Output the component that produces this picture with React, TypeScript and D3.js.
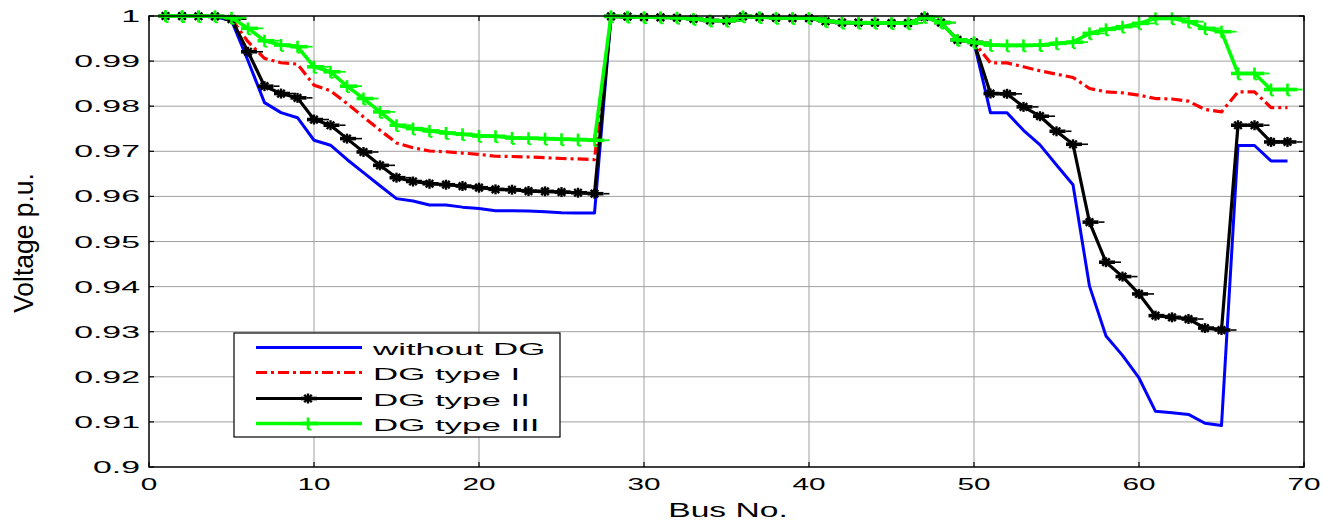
import React from "react";
import * as d3 from "d3";

// Bus voltage profile of the 69-bus radial feeder for four DG cases.

const busNo: number[] = d3.range(1, 70);

const xTicks = [0, 10, 20, 30, 40, 50, 60, 70];
const yTicks = [0.9, 0.91, 0.92, 0.93, 0.94, 0.95, 0.96, 0.97, 0.98, 0.99, 1];
const yTickLabels = ["0.9", "0.91", "0.92", "0.93", "0.94", "0.95", "0.96", "0.97", "0.98", "0.99", "1"];

// Buses 28-50 (laterals close to the substation) are almost identical for every case
const midFeeder = [
  0.99993, 0.99985, 0.99973, 0.99971, 0.99961, 0.99935, 0.99901, 0.99895, 0.99992,
  0.99975, 0.99959, 0.99954, 0.99954, 0.99884, 0.99855, 0.99851, 0.9985, 0.99841,
  0.9984, 0.99979, 0.99854, 0.9947, 0.99415,
];

// Buses 1-27
const withoutDgMain = [
  1.0, 0.99997, 0.99993, 0.99984, 0.99902, 0.99009, 0.98079, 0.97858, 0.97745, 0.97245,
  0.97135, 0.96819, 0.96526, 0.96236, 0.95951, 0.95898, 0.95809, 0.95808, 0.95762,
  0.95732, 0.95684, 0.95683, 0.95676, 0.95659, 0.9564, 0.95632, 0.9563,
];
const dgType1Main = [
  1.0, 0.99998, 0.99995, 0.9999, 0.99935, 0.9943, 0.9906, 0.98963, 0.98933, 0.98467,
  0.9834, 0.9806, 0.97763, 0.97467, 0.97185, 0.9708, 0.97007, 0.9699, 0.9696, 0.96933,
  0.9689, 0.96885, 0.96874, 0.9686, 0.9684, 0.9683, 0.96815,
];
const dgType2Main = [
  1.0, 0.99998, 0.99995, 0.9999, 0.9993, 0.99207, 0.98444, 0.98281, 0.98185, 0.97704,
  0.97578, 0.97281, 0.96985, 0.96689, 0.96415, 0.9633, 0.9628, 0.96259, 0.9623, 0.96193,
  0.96156, 0.96148, 0.96119, 0.96111, 0.96096, 0.96081, 0.9606,
];
const dgType3Main = [
  1.0, 0.99998, 0.99996, 0.99993, 0.9996, 0.99726, 0.99452, 0.99356, 0.99319, 0.98874,
  0.98763, 0.98444, 0.9817, 0.97874, 0.97578, 0.97504, 0.97452, 0.97407, 0.97378,
  0.97341, 0.97333, 0.97296, 0.9729, 0.9728, 0.97267, 0.9726, 0.97244,
];

// Buses 51-69
const withoutDgTail = [
  0.97854, 0.97853, 0.97466, 0.97142, 0.96695, 0.96258, 0.9401, 0.92904, 0.92475, 0.91974,
  0.91234, 0.91205, 0.91166, 0.9097, 0.90919, 0.97129, 0.97129, 0.96786, 0.96786,
];
const dgType1Tail = [
  0.9896, 0.9896, 0.98874, 0.98785, 0.98711, 0.98637, 0.98393, 0.98319, 0.98296, 0.98244,
  0.9817, 0.9816, 0.98111, 0.97926, 0.97874, 0.98319, 0.98319, 0.9797, 0.9797,
];
const dgType2Tail = [
  0.98281, 0.98274, 0.97985, 0.97778, 0.97444, 0.97156, 0.9543, 0.94541, 0.94222, 0.93837,
  0.93356, 0.93319, 0.93281, 0.93081, 0.93037, 0.97578, 0.97578, 0.97207, 0.97207,
];
const dgType3Tail = [
  0.99356, 0.99348, 0.99348, 0.99356, 0.99393, 0.9942, 0.99615, 0.99704, 0.99763, 0.99837,
  0.99948, 0.9995, 0.99874, 0.99726, 0.99652, 0.98726, 0.98726, 0.9837, 0.9837,
];

const seriesNames = ["without DG", "DG type I", "DG type II", "DG type III"];

type Series = {
  name: string;
  values: number[];
  color: string;
  width: number;
  dash?: string;
  marker?: "star" | "plus";
};

const series: Series[] = [
  { name: seriesNames[0], values: [...withoutDgMain, ...midFeeder, ...withoutDgTail], color: "#0000ff", width: 3 },
  { name: seriesNames[1], values: [...dgType1Main, ...midFeeder, ...dgType1Tail], color: "#ff0000", width: 3.2, dash: "11,4,3,4" },
  { name: seriesNames[2], values: [...dgType2Main, ...midFeeder, ...dgType2Tail], color: "#000000", width: 3.2, marker: "star" },
  { name: seriesNames[3], values: [...dgType3Main, ...midFeeder, ...dgType3Tail], color: "#00ff00", width: 3.6, marker: "plus" },
];

const W = 1338;
const H = 521;
const left = 149;
const right = 1304;
const top = 16;
const bottom = 467;

const FONT = "'Liberation Sans', Arial, Helvetica, sans-serif";

function StretchText(props: {
  x: number;
  y: number;
  sx: number;
  size: number;
  anchor: "start" | "middle" | "end";
  text: string;
  rotate?: number;
}) {
  const { x, y, sx, size, anchor, text, rotate = 0 } = props;
  return (
    <text
      transform={`translate(${x},${y}) rotate(${rotate}) scale(${sx},1)`}
      fontFamily={FONT}
      fontSize={size}
      textAnchor={anchor}
      fill="#000"
    >
      {text}
    </text>
  );
}

function Marker({ kind, x, y, color }: { kind: "star" | "plus"; x: number; y: number; color: string }) {
  if (kind === "plus") {
    return (
      <g stroke={color} fill="none" strokeLinecap="butt">
        <line x1={x} y1={y - 6} x2={x} y2={y + 6} strokeWidth={2.6} />
        <line x1={x - 7} y1={y} x2={x + 10} y2={y} strokeWidth={3.6} />
        <line x1={x + 10} y1={y} x2={x + 15} y2={y} strokeWidth={1.8} />
        <line x1={x} y1={y + 6} x2={x + 3} y2={y + 6} strokeWidth={1.8} />
      </g>
    );
  }
  const r = 5;
  const d = r * 0.75;
  return (
    <g stroke={color} fill="none">
      <line x1={x - 7} y1={y} x2={x + 9} y2={y} strokeWidth={3.6} />
      <line x1={x + 9} y1={y} x2={x + 15} y2={y} strokeWidth={1.6} />
      <line x1={x} y1={y - r} x2={x} y2={y + r} strokeWidth={2.4} />
      <line x1={x - d} y1={y - d} x2={x + d} y2={y + d} strokeWidth={2.4} />
      <line x1={x - d} y1={y + d} x2={x + d} y2={y - d} strokeWidth={2.4} />
    </g>
  );
}

export default function App() {
  const x = d3.scaleLinear().domain([0, 70]).range([left, right]);
  const y = d3.scaleLinear().domain([0.9, 1]).range([bottom, top]);

  const lineGen = d3
    .line<number>()
    .x((_, i) => x(busNo[i]))
    .y((v) => y(v));

  const legendX0 = 234;
  const legendY0 = 333;
  const legendRows = [347.5, 372.5, 398.5, 423.5];

  return (
    <svg
      width={W}
      height={H}
      style={{ position: "absolute", left: 0, top: 0, background: "#fff" }}
    >
      <rect x={0} y={0} width={W} height={H} fill="#fff" />

      {/* grid */}
      <g stroke="#a0a0a0" strokeWidth={1}>
        {xTicks.slice(1, -1).map((t) => (
          <line key={`gx${t}`} x1={x(t)} x2={x(t)} y1={top} y2={bottom} />
        ))}
        {yTicks.slice(1, -1).map((t) => (
          <line key={`gy${t}`} x1={left} x2={right} y1={y(t)} y2={y(t)} />
        ))}
      </g>

      {/* inward tick marks on all four sides */}
      <g stroke="#000" strokeWidth={1.2}>
        {xTicks.map((t) => (
          <g key={`tx${t}`}>
            <line x1={x(t)} x2={x(t)} y1={bottom} y2={bottom - 5} />
            <line x1={x(t)} x2={x(t)} y1={top} y2={top + 5} />
          </g>
        ))}
        {yTicks.map((t) => (
          <g key={`ty${t}`}>
            <line x1={left} x2={left + 5} y1={y(t)} y2={y(t)} />
            <line x1={right} x2={right - 5} y1={y(t)} y2={y(t)} />
          </g>
        ))}
      </g>

      {/* curves */}
      {series.map((s) => (
        <g key={s.name}>
          <path
            d={lineGen(s.values) || ""}
            fill="none"
            stroke={s.color}
            strokeWidth={s.width}
            strokeDasharray={s.dash}
            strokeLinejoin="round"
          />
          {s.marker &&
            s.values.map((v, i) => (
              <Marker key={i} kind={s.marker!} x={x(busNo[i])} y={y(v)} color={s.color} />
            ))}
        </g>
      ))}

      {/* frame */}
      <rect
        x={left}
        y={top}
        width={right - left}
        height={bottom - top}
        fill="none"
        stroke="#000"
        strokeWidth={1.5}
      />

      {/* tick labels */}
      {yTicks.map((t, i) => (
        <StretchText
          key={`yl${t}`}
          x={140}
          y={y(t) + 6}
          sx={2.05}
          size={16.5}
          anchor="end"
          text={yTickLabels[i]}
        />
      ))}
      {xTicks.map((t) => (
        <StretchText key={`xl${t}`} x={x(t)} y={490} sx={1.75} size={17} anchor="middle" text={String(t)} />
      ))}

      {/* axis titles */}
      <StretchText x={728} y={517} sx={1.6} size={21} anchor="middle" text="Bus No." />
      <StretchText x={33} y={243} sx={0.98} size={27} anchor="middle" rotate={-90} text="Voltage p.u." />

      {/* legend */}
      <g>
        <rect x={legendX0} y={legendY0} width={326} height={104} fill="#fff" stroke="#000" strokeWidth={1.2} />
        {series.map((s, i) => (
          <g key={`lg${s.name}`}>
            <line
              x1={256}
              x2={362}
              y1={legendRows[i]}
              y2={legendRows[i]}
              stroke={s.color}
              strokeWidth={s.width}
              strokeDasharray={s.dash}
            />
            {s.marker && <Marker kind={s.marker} x={308} y={legendRows[i]} color={s.color} />}
            <StretchText x={373} y={legendRows[i] + 7} sx={2.05} size={17} anchor="start" text={s.name} />
          </g>
        ))}
      </g>
    </svg>
  );
}
